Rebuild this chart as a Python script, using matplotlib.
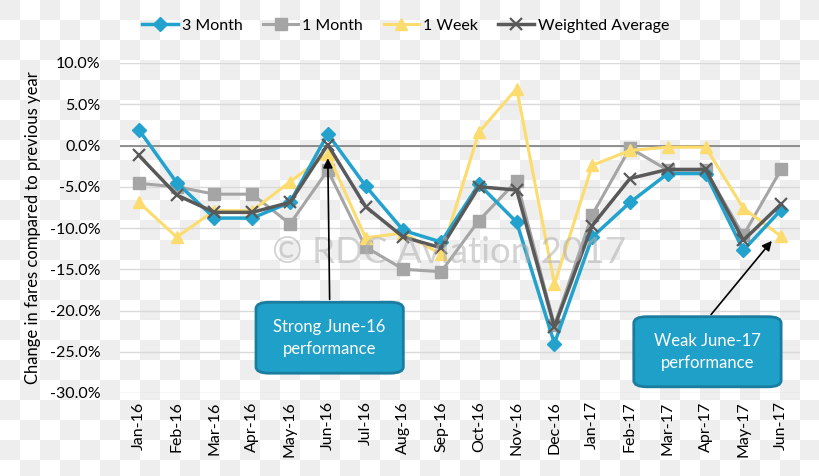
import numpy as np
import matplotlib
matplotlib.use("Agg")
import matplotlib.pyplot as plt
from matplotlib.patches import FancyBboxPatch

months = ["Jan-16", "Feb-16", "Mar-16", "Apr-16", "May-16", "Jun-16", "Jul-16",
          "Aug-16", "Sep-16", "Oct-16", "Nov-16", "Dec-16", "Jan-17", "Feb-17",
          "Mar-17", "Apr-17", "May-17", "Jun-17"]

three_month = [1.9, -4.5, -8.8, -8.8, -6.9, 1.4, -4.9, -10.3, -11.7, -4.7, -9.3,
               -24.0, -11.1, -6.9, -3.4, -3.4, -12.7, -7.8]
one_month = [-4.6, -5.0, -5.9, -5.9, -9.5, -3.0, -12.3, -15.0, -15.3, -9.1, -4.3,
             -21.8, -8.4, -0.3, -3.0, -3.0, -10.9, -2.9]
one_week = [-6.9, -11.1, -7.9, -7.9, -4.4, -1.0, -11.2, -10.6, -13.2, 1.6, 6.9,
            -16.8, -2.4, -0.6, -0.2, -0.2, -7.6, -11.0]
weighted_avg = [-1.2, -6.0, -8.1, -8.1, -6.9, 0.1, -7.4, -11.1, -12.4, -5.0, -5.4,
                -22.0, -9.7, -4.0, -2.9, -2.9, -11.5, -7.1]

yticks = [10, 5, 0, -5, -10, -15, -20, -25, -30]

FONT = ["Lato", "DejaVu Sans"]
plt.rcParams["font.family"] = FONT

W, H = 820, 476
fig = plt.figure(figsize=(W / 100, H / 100), dpi=100)

# checkerboard background (transparency pattern in the reference image)
tile = 20
yy, xx = np.mgrid[0:H, 0:W]
checker = ((xx // tile + yy // tile) % 2 == 0)
bg = np.where(checker, 0.937, 1.0)
bg = np.dstack([bg, bg, bg])
fig.figimage(bg, xo=0, yo=0, origin="upper", zorder=-10)

ax = fig.add_axes([120 / W, 1 - 393 / H, 680 / W, 330 / H])
ax.patch.set_alpha(0)

x = np.arange(len(months))
blue = "#22a2cc"
gray = "#a5a5a5"
yellow = "#fcdc6e"
dark = "#595959"

ax.plot(x, one_month, color=gray, lw=2.2, marker="s", ms=9, label="1 Month", zorder=3)
ax.plot(x, one_week, color=yellow, lw=2.2, marker="^", ms=9, label="1 Week", zorder=3)
ax.plot(x, three_month, color=blue, lw=2.5, marker="D", ms=7, label="3 Month", zorder=4)
ax.plot(x, weighted_avg, color=dark, lw=2.5, marker="x", ms=9, mew=1.6,
        label="Weighted Average", zorder=5)

ax.set_xlim(-0.5, len(months) - 0.5)
ax.set_ylim(-30, 10)
ax.set_yticks(yticks)
ax.set_yticklabels([f"{v:.1f}%" for v in yticks], fontsize=11.5)
ax.set_xticks(x)
ax.set_xticklabels(months, rotation=90, fontsize=11.5)
ax.tick_params(axis="y", length=0, pad=14)
ax.tick_params(axis="x", length=0, pad=6)
ax.grid(axis="y", color="#d9d9d9", lw=1)
ax.axhline(0, color="#7f7f7f", lw=1.2, zorder=2)
for s in ax.spines.values():
    s.set_visible(False)
ax.set_axisbelow(True)
ax.set_ylabel("Change in fares compared to previous year", fontsize=12, labelpad=6)

handles, labels = ax.get_legend_handles_labels()
order = [labels.index(n) for n in ["3 Month", "1 Month", "1 Week", "Weighted Average"]]
fig.legend([handles[i] for i in order], [labels[i] for i in order],
           loc="center left", bbox_to_anchor=(128 / W, 1 - 26 / H), ncol=4,
           frameon=False, fontsize=11.5, handlelength=2.2, handletextpad=0.25,
           columnspacing=1.3)

# watermark
ax.text(8.2, -13.0, "© RDC Aviation 2017", fontsize=26.5, color="#b0b0b0",
        alpha=0.55, ha="center", va="center", zorder=6)

# annotation boxes
box_col = "#1fa0c9"
edge_col = "#1a7c9e"


def callout(ax, text, cx, cy, w, h, target, start):
    box = FancyBboxPatch((cx - w / 2, cy - h / 2), w, h,
                         boxstyle="round,pad=0,rounding_size=0.35",
                         transform=ax.transData, facecolor=box_col,
                         edgecolor=edge_col, lw=2, zorder=7,
                         mutation_aspect=2.2, clip_on=False)
    ax.add_patch(box)
    ax.text(cx, cy, text, ha="center", va="center", color="white",
            fontsize=12, linespacing=1.45, zorder=8)
    ax.annotate("", xy=target, xytext=start,
                arrowprops=dict(arrowstyle="-|>", color="black", lw=1.2,
                                mutation_scale=14), zorder=6)


callout(ax, "Strong June-16\nperformance", 5.05, -23.3, 3.9, 8.6,
        (5.0, -1.2), (5.05, -19.0))
callout(ax, "Weak June-17\nperformance", 15.05, -25.0, 3.9, 8.5,
        (16.8, -11.3), (15.1, -20.75))

fig.savefig("out.png", dpi=100)
